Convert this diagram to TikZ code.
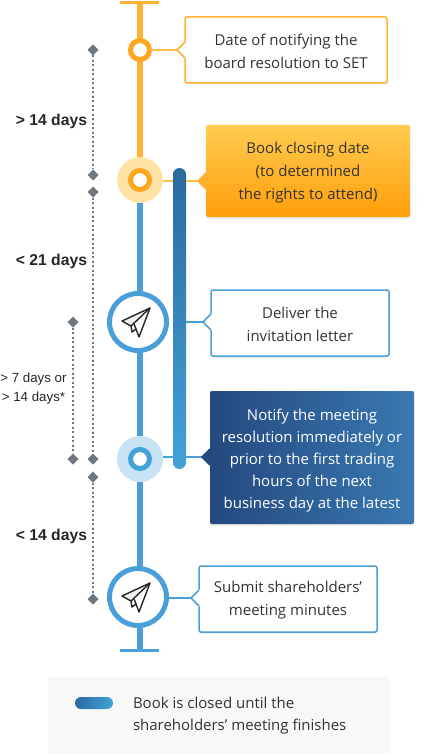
\documentclass[tikz,border=0pt]{standalone}
\usepackage{fontspec}
\setmainfont{Open Sans}
\newfontfamily\daysfont{Liberation Sans}
\usetikzlibrary{arrows.meta,positioning,calc,shadows,shapes.geometric}
\definecolor{orangeline}{HTML}{FFB233}
\definecolor{orangering}{HTML}{FFA51E}
\definecolor{orangehalo}{HTML}{FFE3A6}
\definecolor{orangetop}{HTML}{FFCC50}
\definecolor{orangebot}{HTML}{FF9E0A}
\definecolor{blueline}{HTML}{4A9FD8}
\definecolor{bluehalo}{HTML}{C7E3F4}
\definecolor{barbot}{HTML}{43A2D8}
\definecolor{bartop}{HTML}{2A6AA0}
\definecolor{navyl}{HTML}{24497F}
\definecolor{navyr}{HTML}{3A78B2}
\definecolor{dotgray}{HTML}{6F777F}
\definecolor{bodytext}{HTML}{333333}
\definecolor{legendbg}{HTML}{F8F8F8}
\newcommand{\gap}[1]{\rule{0pt}{#1pt}}
\newcommand{\boxtip}[3]{
\fill[#3] ($(#1)+(9,-9)$) -- (#1) -- ($(#1)+(9,9)$) -- cycle;
\draw[#2,line width=1.5pt] ($(#1)+(8,-8)$) -- (#1) -- ($(#1)+(8,8)$);
}
\newcommand{\planeicon}[1]{
\begin{scope}[shift={(#1)},line width=1.4pt,draw=black!85,line join=round]
\fill[black!6] (12,-14) -- (-16,-1) -- (-7,4) -- cycle;
\draw (12,-14) -- (-16,-1) -- (-7,4) -- (-6,10) -- (-2,7) -- (1,15) -- cycle;
\draw (12,-14) -- (-7,4);
\draw (-4,2) -- (-2,7);
\end{scope}
}
\begin{document}
\begin{tikzpicture}[x=1pt,y=-1pt,>=Latex,
every node/.style={font=\fontsize{15}{23}\selectfont,text=bodytext,align=center,inner sep=0pt,outer sep=0pt},
msgbox/.style={rectangle,rounded corners=2pt,line width=1.5pt,fill=white,drop shadow={opacity=.18,shadow xshift=0pt,shadow yshift=-1.5pt}},
link/.style={line width=1.5pt},
spine/.style={line width=5.5pt},
endcap/.style={line width=3pt},
ring/.style={circle,fill=white,minimum size=19pt,line width=5pt},
planering/.style={circle,fill=white,draw=blueline,minimum size=57pt,line width=5pt,drop shadow={opacity=.18,shadow xshift=0pt,shadow yshift=-2pt}},
halo/.style={circle,minimum size=46pt},
tick/.style={diamond,fill=dotgray,minimum size=11pt},
span/.style={dotgray,line width=1.8pt,dash pattern=on 2pt off 2.5pt},
days/.style={font=\daysfont\fontsize{15.7}{19}\selectfont\bfseries,text=black!85,anchor=east},
]
\useasboundingbox (0,0) rectangle (420,754);

\coordinate (t1) at (177,50);
\coordinate (t2) at (198,181);
\coordinate (t3) at (203,322);
\coordinate (t4) at (202,457);
\coordinate (t5) at (191,598);
\coordinate (topcapl) at (120,2.5);
\coordinate (topcapr) at (159,2.5);
\coordinate (botcapl) at (120,650);
\coordinate (botcapr) at (159,650);
\coordinate (top) at (140,2.5);
\coordinate (bot) at (140,650);

\node[tick] (a1) at (93,50) {};
\node[tick] (a2) at (93,175) {};
\node[tick] (b1) at (93,192) {};
\node[tick] (b2) at (93,459) {};
\node[tick] (c1) at (93,477) {};
\node[tick] (c2) at (93,599) {};
\node[tick] (d1) at (73,322) {};
\node[tick] (d2) at (73,459) {};
\draw[span] (a1)--(a2);
\draw[span] (b1)--(b2);
\draw[span] (c1)--(c2);
\draw[span] (d1)--(d2);
\node[days] (la) at (87,121.5) {> 14 days};
\node[days] (lb) at (87,261.5) {< 21 days};
\node[days] (lc) at (87,536.5) {< 14 days};
\node[days,font=\daysfont\fontsize{13.3}{19}\selectfont,anchor=center] (ld) at (33.5,388.5) {> 7 days or\\> 14 days*};

\node[halo,fill=orangehalo] (h2) at (140,180) {};
\node[halo,fill=bluehalo] (h4) at (140,459) {};
\draw[endcap,orangeline] (topcapl)--(topcapr);
\draw[endcap,blueline] (botcapl)--(botcapr);
\draw[spine,orangeline] (top)--(h2);
\draw[spine,blueline] (h2)--(h4);
\draw[spine,blueline] (h4)--(bot);

\node[rectangle,rounded corners=6.5pt,minimum width=13pt,minimum height=301pt,top color=bartop,bottom color=barbot] (bar) at (179.5,318.5) {};

\node[ring,draw=orangering,drop shadow={opacity=.18,shadow xshift=0pt,shadow yshift=-1.5pt}] (n1) at (140,50) {};
\node[ring,draw=orangering] (n2) at (140,180) {};
\node[planering] (n3) at (138,322) {};
\node[ring,draw=barbot] (n4) at (140,459) {};
\node[planering] (n5) at (138,597) {};
\planeicon{138,322}
\planeicon{138,597}

\draw[link,orangeline!85] (n1)--(t1);
\draw[link,orangeline!85] (t2-|h2.east)--(t2-|bar.west);
\draw[link,orangeline!85] (t2-|bar.east)--(t2);
\draw[link,blueline] (t3-|bar.east)--(t3);
\draw[link,blueline] (t4-|h4.east)--(t4-|bar.west);
\draw[link,blueline] (t4-|bar.east)--(t4);
\draw[link,blueline] (t5-|n5.east)--(t5);

\node[msgbox,draw=orangeline,minimum width=202pt,minimum height=66pt] (box1) at (286,50) {\gap{14}Date of notifying the\\board resolution to SET};
\node[msgbox,top color=orangetop,bottom color=orangebot,minimum width=204pt,minimum height=92pt] (box2) at (308,171) {\gap{14}Book closing date\\(to determined\\the rights to attend)};
\node[msgbox,draw=blueline,minimum width=178pt,minimum height=66pt] (box3) at (300,323) {\gap{14}Deliver the\\invitation letter};
\node[msgbox,left color=navyl,right color=navyr,minimum width=204pt,minimum height=133pt,text=white,font=\fontsize{15}{22}\selectfont] (box4) at (312,457.5) {\gap{17}Notify the meeting\\resolution immediately or\\prior to the first trading\\hours of the next\\business day at the latest};
\node[msgbox,draw=blueline,minimum width=178pt,minimum height=66pt] (box5) at (288,599) {\gap{14}Submit shareholders’\\meeting minutes};
\boxtip{t1}{orangeline}{white}
\boxtip{t2}{orangeline}{orangeline}
\boxtip{t3}{blueline}{white}
\boxtip{t4}{navyl}{navyl}
\boxtip{t5}{blueline}{white}

\node[rectangle,fill=legendbg,minimum width=342pt,minimum height=76pt] (legend) at (219,715) {};
\node[rectangle,rounded corners=6pt,minimum width=38pt,minimum height=12pt,left color=bartop,right color=barbot] (swatch) at (94,703) {};
\node[anchor=west,align=left,font=\fontsize{15}{22}\selectfont] (legendtext) at (133,716) {Book is closed until the\\shareholders’ meeting finishes};
\end{tikzpicture}
\end{document}
